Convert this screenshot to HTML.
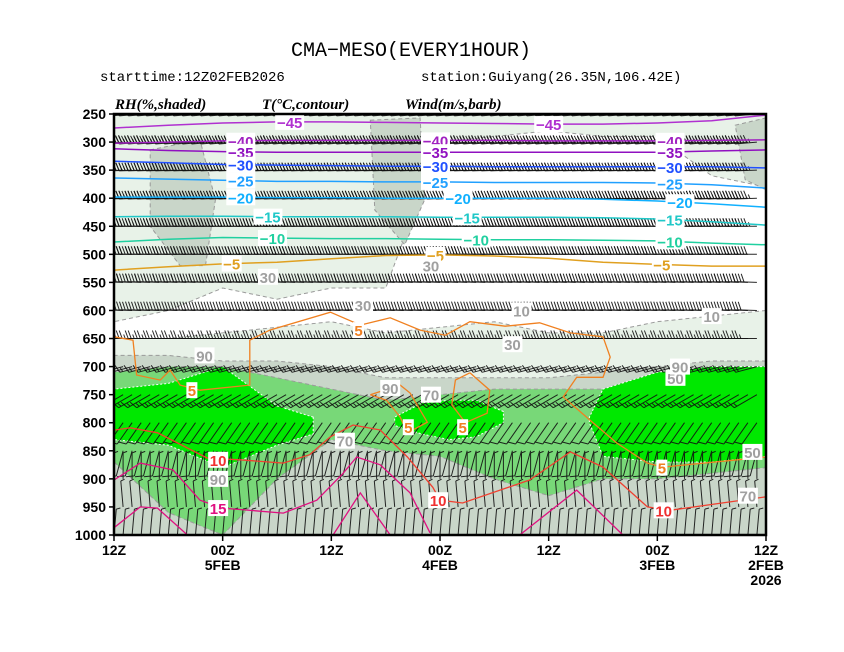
<!DOCTYPE html>
<html><head><meta charset="utf-8"><style>
html,body{margin:0;padding:0;background:#fff;}
svg{display:block;}
.t{font-family:"Liberation Mono",monospace;}
.ax{font-family:"Liberation Sans",sans-serif;font-weight:bold;font-size:14px;}
.hd{font-family:"Liberation Serif",serif;font-weight:bold;font-style:italic;font-size:15px;}
.cl{font-family:"Liberation Sans",sans-serif;font-weight:bold;font-size:15px;}
</style></head><body>
<svg id="chart" width="844" height="652" viewBox="0 0 844 652">
<text class="t" x="411" y="56" font-size="20" text-anchor="middle">CMA−MESO(EVERY1HOUR)</text>
<text class="t" x="100" y="81" font-size="14">starttime:12Z02FEB2026</text>
<text class="t" x="421" y="81" font-size="14">station:Guiyang(26.35N,106.42E)</text>
<text class="hd" x="115" y="109">RH(%,shaded)</text>
<text class="hd" x="262" y="109">T(°C,contour)</text>
<text class="hd" x="405" y="109">Wind(m/s,barb)</text>
<defs><clipPath id="pc"><rect x="114" y="114" width="652" height="421"/></clipPath></defs>
<g id="plot" clip-path="url(#pc)"></g>
<g id="axes"></g>
</svg>
<script>
// ---- data ----
const levels = [250,300,350,400,450,500,550,600,650,700,750,800,850,900,950,1000];
const colHours = [0,6,12,18,24,30,36,42,48,54,60,66,72];
const xTickHours = [0,12,24,36,48,60,72];
const xTickTop = ["12Z","00Z","12Z","00Z","12Z","00Z","12Z"];
const xTickBottom = ["2FEB","3FEB","","4FEB","","5FEB",""];
// RH shaded bands (pressure boundaries per column hour)
const rhUpperLightBottom = [380,360,290,290,280,290,300,560,560,580,560,600,620];
const rhLowLightTop = [600,610,620,640,640,620,630,640,620,630,640,650,650];
const rhGrayTop = [690,690,700,710,720,720,720,720,700,690,690,680,680];
const rhMedTop = [700,700,710,740,740,740,750,760,740,720,700,700,710];
const rhMedBottom = [880,890,900,900,930,900,860,850,830,900,1000,960,870];
const bright1Hours = [0,6,12,18,19.5];
const bright1Top = [700,700,710,740,790];
const bright1Bottom = [860,870,870,860,800];
const bright2Hours = [29,32,35,38,41];
const bright2Top = [780,760,760,765,790];
const bright2Bottom = [800,825,830,820,805];
const bright3Hours = [50,54,60,66,72];
const bright3Top = [790,770,700,730,740];
const bright3Bottom = [820,840,880,840,830];
const patch1H = [68,62.5,60.8,61.9,64.7,68], patch1P = [314,296,403,520,520,450];
const patch2H = [43.7,38.2,37.7,39.9,43.2], patch2P = [261,257,403,483,421];
const patch3H = [3.4,0,0,2.3], patch3P = [270,257,385,367];
// temperature isotherms (pressure per column hour)
const isoValues = [-45,-40,-35,-30,-25,-20,-15,-10,-5];
const isoM45 = [252,262,266,268,268,267,266,265,264,264,266,270,275];
const isoM40 = [296,297,298,298,298,297,297,297,297,297,298,300,302];
const isoM35 = [314,316,318,318,318,318,318,318,318,318,317,315,312];
const isoM30 = [346,344,344,344,344,344,343,343,342,341,340,337,334];
const isoM25 = [382,376,373,372,372,372,371,371,370,370,368,366,364];
const isoM20 = [416,410,405,402,400,400,400,400,399,399,398,398,398];
const isoM15 = [448,442,437,435,434,434,434,433,433,433,432,432,433];
const isoM10 = [483,480,476,475,474,474,473,472,472,471,470,473,478];
const isoM5 = [521,521,518,514,507,503,501,502,508,514,517,522,528];
const iso5H = [72,69.9,69.5,66.9,65.8,64.7,62.5,57,57,54.8,48.1,44.8,41.5,38.2,35.4,32.7,28.8,25,21.6,18,17.2,18,20.9,22.4,19.1,16.5,13.1,11.4,0];
const iso5P = [647,653,715,724,706,733,742,733,653,635,603,626,613,635,644,620,628,622,640,647,683,719,719,754,800,836,872,879,861];
const iso5LoopAH = [43.7,40.4,39.3,37.4,39.6,40.4,41.9,43.7], iso5LoopAP = [750,733,747,799,818,790,760,750];
const iso5LoopBH = [32.7,30.5,30.8,33.2,34.7,34.3,32.7], iso5LoopBP = [711,742,783,800,768,724,711];
const iso10H = [71.9,70.2,67.2,61.7,58.1,53.3,50.4,48.1,45.6,42.6,39.6,36.8,36,33.5,26.1,21.6,18,13.1,10.6,0];
const iso10P = [813,809,818,863,866,872,857,825,804,813,861,915,938,943,902,852,879,950,956,932];
const iso15AH = [72,69.1,65.5,62.5,60,53.3,49.6,46.7,45.2,42.6,39.3,37.1], iso15AP = [902,872,884,938,952,961,938,890,861,875,925,996];
const iso15BH = [72,69.1,67.2,63.9], iso15BP = [987,950,952,1000];
const iso15CH = [47.8,44.8,41.5], iso15CP = [1000,925,1000];
const iso15DH = [27.2,20.9,15.8], iso15DP = [1000,920,1000];
// wind per level
const windSpd = [40,44,40,36,30,26,22,18,14,10,8,7,6,5,5,4];
const windDir = [265,265,268,268,270,270,272,272,270,255,240,215,195,0,355,5];
</script>
<script>
const NS="http://www.w3.org/2000/svg";
const plot=document.getElementById('plot'), axes=document.getElementById('axes');
const X0=114,X1=766,Y0=114,Y1=535;
const xS=h=>X1-h*(X1-X0)/72;
const yS=p=>Y0+(p-250)*(Y1-Y0)/750;
function mk(tag,attrs,parent){const e=document.createElementNS(NS,tag);for(const k in attrs)e.setAttribute(k,attrs[k]);(parent||plot).appendChild(e);return e;}
function ptsCols(arr){return colHours.map((h,i)=>xS(h).toFixed(1)+','+yS(arr[i]).toFixed(1));}
function ptsHP(H,P){return H.map((h,i)=>xS(h).toFixed(1)+','+yS(P[i]).toFixed(1));}
function bandPoly(topArr,botArr,fill,name){
  const top=ptsCols(topArr), bot=ptsCols(botArr).reverse();
  const e=mk('polygon',{points:top.concat(bot).join(' '),fill:fill,stroke:'#9a9a9a','stroke-width':1,'stroke-dasharray':'4,3'});
  
  
}
const c250=colHours.map(()=>250), c1000=colHours.map(()=>1000);
bandPoly(c250,rhUpperLightBottom,'#e8f2e8','rh-30-upper');
[[patch1H,patch1P],[patch2H,patch2P],[patch3H,patch3P]].forEach(([H,P])=>{
  const e=mk('polygon',{points:ptsHP(H,P).join(' '),fill:'#c9d6c9',stroke:'#9a9a9a','stroke-dasharray':'4,3'});
  
  
});
bandPoly(rhLowLightTop,c1000,'#e8f2e8','rh-30-lower');
bandPoly(rhGrayTop,c1000,'#c9d6c9','rh-50-lower');
bandPoly(rhMedTop,rhMedBottom,'#78d878','rh-70-band');
function brightPoly(H,T,B){
  const top=ptsHP(H,T), bot=ptsHP(H,B).reverse();
  const e=mk('polygon',{points:top.concat(bot).join(' '),fill:'#00e800',stroke:'#ffffff','stroke-width':1,'stroke-dasharray':'2,2'});
  
  
}
brightPoly(bright1Hours,bright1Top,bright1Bottom);
brightPoly(bright2Hours,bright2Top,bright2Bottom);
brightPoly(bright3Hours,bright3Top,bright3Bottom);
// wind barbs
levels.forEach((p,li)=>{
  const spd=windSpd[li], dir=windDir[li]*Math.PI/180;
  const kts=spd*1.944; const nFull=Math.min(5,Math.floor(kts/10)); const half=(kts%10)>=5;
  const L=p>=750?26:22;
  const sx=Math.sin(dir), sy=-Math.cos(dir);
  const fx=-sy, fy=sx;
  for(let h=1;h<=73;h+=1){
    const x=xS(h), y=yS(p);
    const ex=x+sx*L, ey=y+sy*L;
    let d='M'+x.toFixed(1)+' '+y.toFixed(1)+'L'+ex.toFixed(1)+' '+ey.toFixed(1);
    let pos=0;
    for(let k=0;k<nFull;k++){
      const bx=ex-sx*pos, by=ey-sy*pos;
      d+='M'+bx.toFixed(1)+' '+by.toFixed(1)+'L'+(bx+fx*8+sx*3).toFixed(1)+' '+(by+fy*8+sy*3).toFixed(1);
      pos+=3;
    }
    if(half){const bx=ex-sx*pos, by=ey-sy*pos;d+='M'+bx.toFixed(1)+' '+by.toFixed(1)+'L'+(bx+fx*4+sx*1.5).toFixed(1)+' '+(by+fy*4+sy*1.5).toFixed(1);}
    const e=mk('path',{d:d,stroke:'#111',fill:'none','stroke-width':1,opacity:0.9});
    
    
  }
});
// isotherms
const isoArrays=[isoM45,isoM40,isoM35,isoM30,isoM25,isoM20,isoM15,isoM10,isoM5];
const isoColors=['#b030d0','#a020c0','#9010c0','#2050ff','#20a0ff','#10b0ff','#20c8c8','#20d0a0','#e0a020'];
const isoLabelHours=[[52.6,24],[58,36.5,10.6],[58,36.5,10.6],[58,36.5,10.6],[58,36.5,10.6],[58,34,9.5],[55,33,10.6],[54.5,32,10.6],[59,36.5,11.5]];
function label(x,y,txt,color,name){
  const g=mk('g',{});
  
  
  const w=txt.length*9+2;
  mk('rect',{x:x-w/2,y:y-8,width:w,height:16,fill:'#fff'},g);
  mk('text',{x:x,y:y+6,'text-anchor':'middle',fill:color,class:'cl'},g).textContent=txt;
}
isoArrays.forEach((arr,i)=>{
  const e=mk('polyline',{points:ptsCols(arr).join(' '),fill:'none',stroke:isoColors[i],'stroke-width':1.5});
  
  
  isoLabelHours[i].forEach(h=>{
    const idx=h/6, i0=Math.floor(idx), f=idx-i0; const p=arr[i0]+(arr[Math.min(12,i0+1)]-arr[i0])*f;
    label(xS(h),yS(p),String(isoValues[i]).replace('-','−'),isoColors[i],'isotherm-label');
  });
});
function isoPath(H,P,color,name){
  const e=mk('polyline',{points:ptsHP(H,P).join(' '),fill:'none',stroke:color,'stroke-width':1.3});
  
  
}
isoPath(iso5H,iso5P,'#f08020','isotherm-5');
isoPath(iso5LoopAH,iso5LoopAP,'#f08020','isotherm-5-loop');
isoPath(iso5LoopBH,iso5LoopBP,'#f08020','isotherm-5-loop');
isoPath(iso10H,iso10P,'#f04030','isotherm-10');
[[iso15AH,iso15AP],[iso15BH,iso15BP],[iso15CH,iso15CP],[iso15DH,iso15DP]].forEach(([H,P])=>isoPath(H,P,'#e01080','isotherm-15'));
label(xS(45),yS(635),'5','#f08020','isotherm-label');
label(xS(63.4),yS(742),'5','#f08020','isotherm-label');
label(xS(39.5),yS(808),'5','#f08020','isotherm-label');
label(xS(33.5),yS(808),'5','#f08020','isotherm-label');
label(xS(11.5),yS(880),'5','#f08020','isotherm-label');
label(xS(60.5),yS(866),'10','#f03030','isotherm-label');
label(xS(36.2),yS(938),'10','#f03030','isotherm-label');
label(xS(11.3),yS(956),'10','#f03030','isotherm-label');
label(xS(60.5),yS(952),'15','#e01080','isotherm-label');
// RH labels
[[55,540,'30'],[37,520,'30'],[44.5,590,'30'],[28,660,'30'],[6,610,'10'],[27,600,'10'],[62,680,'90'],[41.5,738,'90'],[60.5,900,'90'],[10,720,'50'],[1.5,852,'50'],[46.5,832,'70'],[2,930,'70'],[37,750,'70'],[9.5,700,'90']].forEach(([h,p,t])=>label(xS(h),yS(p),t,'#a0a0a0','rh-label'));
// axes
mk('rect',{x:X0,y:Y0,width:X1-X0,height:Y1-Y0,fill:'none',stroke:'#000','stroke-width':2.5},axes);
levels.forEach(p=>{
  const y=yS(p);
  mk('line',{x1:X0-5,x2:X0,y1:y,y2:y,stroke:'#000','stroke-width':1.5},axes);
  const t=mk('text',{x:X0-8,y:y+5,'text-anchor':'end',class:'ax'},axes);
  t.textContent=p;
  
  
});
xTickHours.forEach((h,i)=>{
  const x=xS(h);
  mk('line',{x1:x,x2:x,y1:Y1,y2:Y1+6,stroke:'#000','stroke-width':1.5},axes);
  const t=mk('text',{x:x,y:Y1+20,'text-anchor':'middle',class:'ax'},axes);
  t.textContent=xTickTop[i];
  
  
  if(xTickBottom[i]){
    const b=mk('text',{x:x,y:Y1+35,'text-anchor':'middle',class:'ax'},axes);
    b.textContent=xTickBottom[i];
    
    
  }
});
const yr=mk('text',{x:xS(0),y:Y1+50,'text-anchor':'middle',class:'ax'},axes);
yr.textContent='2026';


</script>
</body></html>
